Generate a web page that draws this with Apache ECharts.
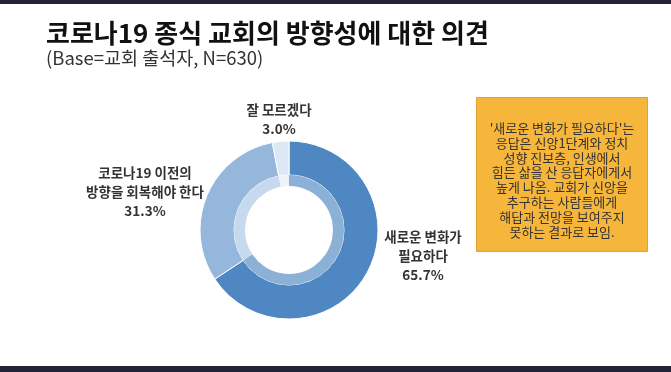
<!DOCTYPE html>
<html><head><meta charset="utf-8">
<script src="https://cdn.jsdelivr.net/npm/echarts@6/dist/echarts.min.js"></script>
<style>html,body{margin:0;padding:0;background:#fff}#c{width:671px;height:372px}</style>
</head><body><div id="c"></div>
<script>
const categories = ['새로운 변화가\n필요하다', '코로나19 이전의\n방향을 회복해야 한다', '잘 모르겠다'];
const values = [65.7, 31.3, 3.0];
const outerColors = ['#4e87c1', '#95b7dc', '#dde8f5'];
const innerColors = ['#8cb1d7', '#c7d9ee', '#eef3fa'];
const titleText = '코로나19 종식 교회의 방향성에 대한 의견';
const subtitleText = '(Base=교회 출석자, N=630)';
const noteText = "'새로운 변화가 필요하다'는\n응답은 신앙1단계와 정치\n성향 진보층, 인생에서\n힘든 삶을 산 응답자에게서\n높게 나옴. 교회가 신앙을\n추구하는 사람들에게\n해답과 전망을 보여주지\n못하는 결과로 보임.";

const labelPos = [[423, 256], [145, 192], [279, 119]];
const font = '"Noto Sans CJK KR", "Noto Sans", sans-serif';

const chart = echarts.init(document.getElementById('c'), null, {renderer: 'canvas'});
chart.setOption({
  backgroundColor: '#ffffff',
  animation: false,
  title: [
    {text: titleText, left: 41, top: 15, textStyle: {fontFamily: font, fontSize: 26, fontWeight: 'bold', color: '#111'}},
    {text: subtitleText, left: 41, top: 44, textStyle: {fontFamily: font, fontSize: 18.5, fontWeight: 'normal', color: '#333'}}
  ],
  graphic: [
    {type: 'rect', left: 0, top: 0, shape: {width: 671, height: 4}, style: {fill: '#24223b'}},
    {type: 'rect', left: 0, top: 366, shape: {width: 671, height: 6}, style: {fill: '#24223b'}},
    {type: 'rect', left: 476, top: 97, shape: {width: 171, height: 154}, style: {fill: '#f6b53b', stroke: '#e2a232', lineWidth: 1}},
    {type: 'text', x: 562, y: 180, style: {text: noteText, fontFamily: font, fontSize: 13, lineHeight: 14.9, fill: '#333', align: 'center', verticalAlign: 'middle'}}
  ],
  series: [
    {
      type: 'pie', center: [289, 230], radius: [55, 89], startAngle: 90, clockwise: true,
      itemStyle: {borderColor: '#fff', borderWidth: 1},
      data: categories.map((c, i) => ({name: c, value: values[i], itemStyle: {color: outerColors[i]}})),
      label: {
        show: true, position: 'outside', fontFamily: font, fontSize: 13.5, fontWeight: 'bold', color: '#333',
        lineHeight: 19, align: 'center',
        formatter: p => p.name + '\n' + p.value.toFixed(1) + '%'
      },
      labelLine: {show: false},
      labelLayout: p => ({x: labelPos[p.dataIndex][0], y: labelPos[p.dataIndex][1], align: 'center', verticalAlign: 'middle'}),
      emphasis: {disabled: true}
    },
    {
      type: 'pie', center: [289, 230], radius: [44, 55], startAngle: 90, clockwise: true, silent: true,
      itemStyle: {borderColor: '#fff', borderWidth: 0},
      data: categories.map((c, i) => ({name: c, value: values[i], itemStyle: {color: innerColors[i]}})),
      label: {show: false}, labelLine: {show: false}
    }
  ]
});
</script></body></html>
